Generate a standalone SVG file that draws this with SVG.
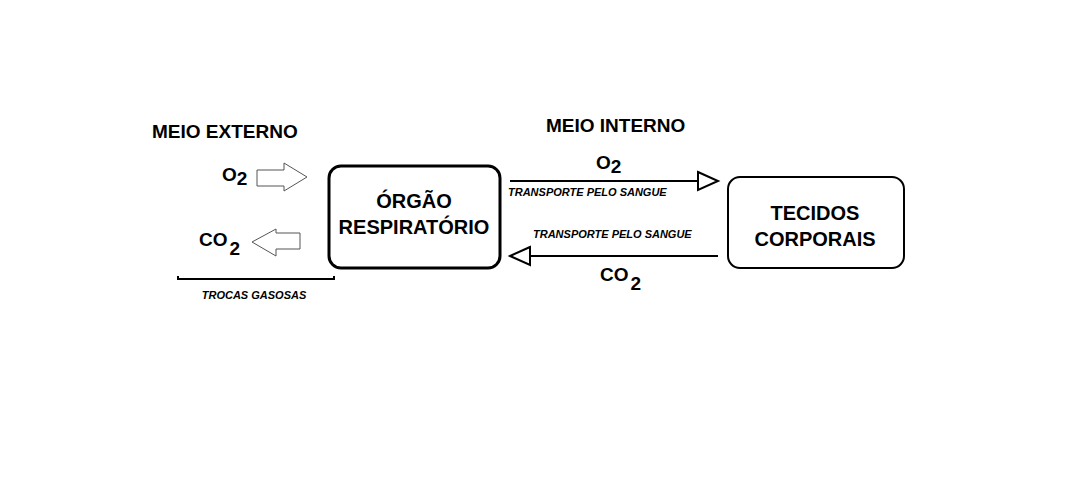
<svg xmlns="http://www.w3.org/2000/svg" width="1080" height="482" viewBox="0 0 1080 482">
<style>
text{font-family:"Liberation Sans",Arial,sans-serif;font-weight:bold;fill:#000}
.h{font-size:19px}
.b{font-size:20px}
.s{font-size:11px;font-style:italic}
.box{fill:#fff;stroke:#000}
.blk{fill:#fff;stroke:#555;stroke-width:1}
.ln{stroke:#000;stroke-width:2;fill:none}
.tri{fill:#fff;stroke:#000;stroke-width:2}
</style>
<rect width="1080" height="482" fill="#fff"/>
<text class="h" x="152" y="138">MEIO EXTERNO</text>
<text class="h" x="546" y="132">MEIO INTERNO</text>
<g id="orgao">
<rect class="box" x="329" y="166" width="171" height="102" rx="12" stroke-width="3"/>
<text class="b" x="414" y="208" text-anchor="middle">ÓRGÃO</text>
<text class="b" x="414" y="234" text-anchor="middle">RESPIRATÓRIO</text>
</g>
<g id="tecidos">
<rect class="box" x="728" y="177" width="176" height="91" rx="12" stroke-width="2"/>
<text class="b" x="815" y="220" text-anchor="middle">TECIDOS</text>
<text class="b" x="815" y="246" text-anchor="middle">CORPORAIS</text>
</g>
<g id="connectors">
<polygon class="blk" points="257,170 284,170 284,163 307,177 284,191 284,186 257,186"/>
<polygon class="blk" points="300,233 276,233 276,229 252,242 276,256 276,249 300,249"/>
<line class="ln" x1="510" y1="181" x2="698" y2="181"/>
<polygon class="tri" points="698,172 718,181 698,190"/>
<line class="ln" x1="718" y1="256" x2="530" y2="256"/>
<polygon class="tri" points="530,247 510,256 530,265"/>
<path class="ln" d="M178,276 V279 H334 V276"/>
</g>
<text class="h" x="222" y="181">O<tspan font-size="19" dy="4">2</tspan></text>
<text class="h" x="199" y="246">CO<tspan dx="2" dy="9">2</tspan></text>
<text class="h" x="596" y="169">O<tspan dy="4">2</tspan></text>
<text class="h" x="600" y="281">CO<tspan dx="2" dy="9">2</tspan></text>
<text class="s" x="508" y="196">TRANSPORTE PELO SANGUE</text>
<text class="s" x="533" y="238">TRANSPORTE PELO SANGUE</text>
<text class="s" x="254" y="299" text-anchor="middle">TROCAS GASOSAS</text>
</svg>
